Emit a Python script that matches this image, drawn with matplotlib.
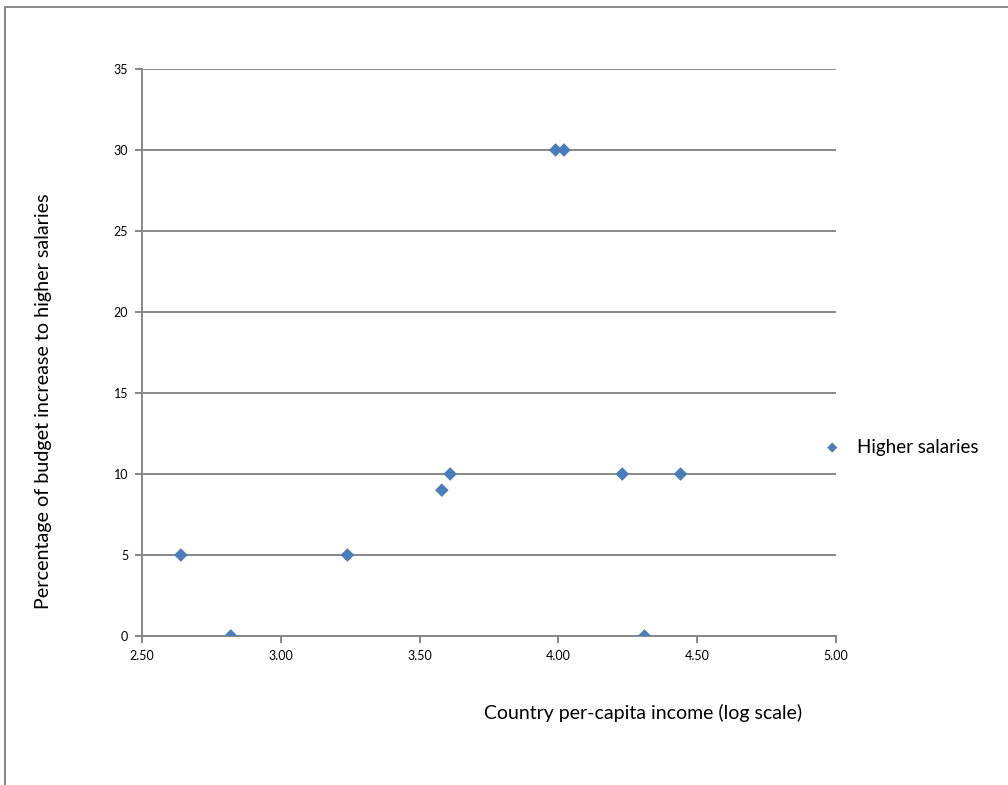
import matplotlib.pyplot as plt
from matplotlib.lines import Line2D

plt.rcParams['font.family'] = ['Lato', 'DejaVu Sans']

# log10 of per-capita income vs. share of budget increase going to salaries
income_log = [2.64, 2.82, 3.24, 3.58, 3.61, 3.99, 4.02, 4.23, 4.31, 4.44]
salary_pct = [5, 0, 5, 9, 10, 30, 30, 10, 0, 10]
series_name = 'Higher salaries'

x_ticks = [2.5, 3.0, 3.5, 4.0, 4.5, 5.0]
y_ticks = [0, 5, 10, 15, 20, 25, 30, 35]

grey = '#878787'
blue = '#4A7EBB'

fig = plt.figure(figsize=(10.08, 7.85), dpi=100)
ax = fig.add_axes([142 / 1008, 1 - 636 / 785, 694 / 1008, 567 / 785])

ax.scatter(income_log, salary_pct, marker='D', s=48, color=blue,
           edgecolors='none', zorder=3, label=series_name)

ax.set_xlim(2.5, 5.0)
ax.set_ylim(0, 35)
ax.set_xticks(x_ticks)
ax.set_xticklabels(['%.2f' % t for t in x_ticks])
ax.set_yticks(y_ticks)
ax.set_yticklabels([str(t) for t in y_ticks])
ax.tick_params(labelsize=9, color=grey, width=1.4, length=5, pad=5)

ax.grid(axis='y', color=grey, linewidth=1.4)
ax.set_axisbelow(True)
for side in ['top', 'right']:
    ax.spines[side].set_visible(False)
for side in ['left', 'bottom']:
    ax.spines[side].set_color(grey)
    ax.spines[side].set_linewidth(1.4)

fig.text(44 / 1008, 1 - 401 / 785, 'Percentage of budget increase to higher salaries',
         rotation=90, ha='center', va='center', fontsize=14.2)
fig.text(643 / 1008, 1 - 713 / 785, 'Country per-capita income (log scale)',
         ha='center', va='center', fontsize=14)

# legend to the right of the plot
ax.legend(loc='center left', bbox_to_anchor=(806 / 1008, 1 - 447 / 785),
          bbox_transform=fig.transFigure, frameon=False, fontsize=13.5,
          handletextpad=0.3, borderaxespad=0, markerscale=0.75)

# chart area frame (top and left edges)
fig.add_artist(Line2D([5 / 1008, 1], [1 - 7 / 785, 1 - 7 / 785],
                      transform=fig.transFigure, color=grey, linewidth=1.4))
fig.add_artist(Line2D([5 / 1008, 5 / 1008], [0, 1 - 7 / 785],
                      transform=fig.transFigure, color=grey, linewidth=1.4))

fig.savefig('out.png', dpi=100)
